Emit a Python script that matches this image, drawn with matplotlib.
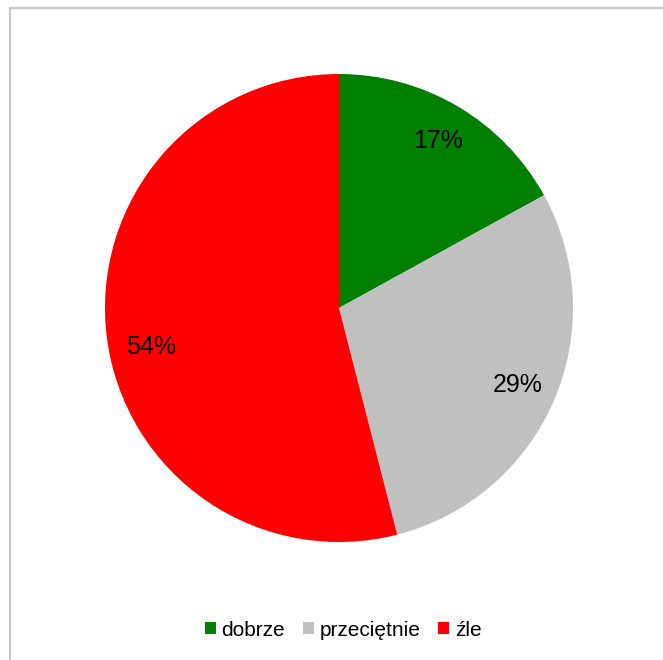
import math
import matplotlib.pyplot as plt
from matplotlib.patches import Patch
from matplotlib.lines import Line2D

plt.rcParams['font.family'] = ['Liberation Sans', 'DejaVu Sans']

labels = ["dobrze", "przeciętnie", "źle"]
values = [17, 29, 54]
colors = ["#008000", "#c0c0c0", "#ff0000"]

W, H = 663, 660
fig = plt.figure(figsize=(W / 100, H / 100), dpi=100)

# outer chart frame: only the top and left edges show in the original
fx, fy = 9.5 / W, 1 - 7.5 / H
fig.add_artist(Line2D([fx, fx], [0, fy], transform=fig.transFigure,
                      color="#c8c8c8", linewidth=1.6))
fig.add_artist(Line2D([fx, 1], [fy, fy], transform=fig.transFigure,
                      color="#c8c8c8", linewidth=1.6))

cx, cy, r = 339, 308, 234
ax = fig.add_axes([(cx - r) / W, (H - cy - r) / H, 2 * r / W, 2 * r / H])

wedges, texts, autotexts = ax.pie(values, colors=colors, startangle=90,
                                  counterclock=False, autopct='%1.0f%%',
                                  pctdistance=0.83, radius=1,
                                  textprops={'fontsize': 18, 'color': 'black'})
ax.set_xlim(-1, 1)
ax.set_ylim(-1, 1)
ax.set_aspect('equal')

# the big slice label sits lower-left, as in the spreadsheet's best-fit
ang = math.radians(191.7)
autotexts[2].set_position((0.82 * math.cos(ang), 0.82 * math.sin(ang)))

handles = [Patch(facecolor=c, edgecolor='none') for c in colors]
fig.legend(handles, labels, loc='center', bbox_to_anchor=(343 / W, 30 / H),
           ncol=3, frameon=False, fontsize=15, handlelength=0.55,
           handleheight=0.55, handletextpad=0.25, columnspacing=0.85)

plt.savefig("out.png", dpi=100)
